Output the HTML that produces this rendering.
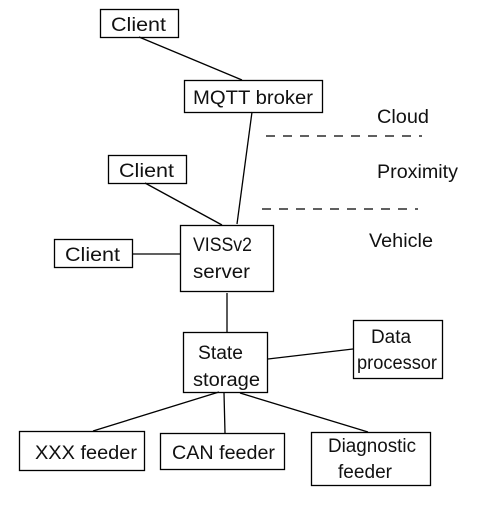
<!DOCTYPE html>
<html><head><meta charset="utf-8"><style>
html,body{margin:0;padding:0;background:#fff;width:481px;height:509px;overflow:hidden}
svg text{font-family:"Liberation Sans",sans-serif;font-size:19px;fill:#111}
</style></head><body>
<svg width="481" height="509" xmlns="http://www.w3.org/2000/svg">
<g fill="none" stroke="#000" stroke-width="1.3">
<rect x="100.5" y="9.5" width="78" height="28"/>
<rect x="184.5" y="80.5" width="138" height="32"/>
<rect x="108.5" y="155.5" width="78" height="28"/>
<rect x="180.5" y="225.5" width="93" height="66"/>
<rect x="54.5" y="239.5" width="78" height="28"/>
<rect x="183.5" y="332.5" width="84" height="60"/>
<rect x="353.5" y="320.5" width="89" height="58"/>
<rect x="19.5" y="431.5" width="125" height="39"/>
<rect x="160.5" y="433.5" width="124" height="36"/>
<rect x="311.5" y="432.5" width="119" height="53"/>
<line x1="139" y1="37" x2="242" y2="80"/>
<line x1="252" y1="112" x2="237" y2="224"/>
<line x1="145" y1="183" x2="222" y2="225"/>
<line x1="132" y1="254" x2="180" y2="254"/>
<line x1="227" y1="293" x2="227" y2="332"/>
<line x1="268" y1="359" x2="353" y2="349"/>
<line x1="219" y1="392" x2="93" y2="431"/>
<line x1="224" y1="393" x2="225" y2="433"/>
<line x1="240" y1="393" x2="368" y2="432"/>
<line x1="266" y1="136" x2="422" y2="136" stroke-dasharray="9,8"/>
<line x1="262" y1="209" x2="418" y2="209" stroke-dasharray="9,8"/>
</g>
<text x="111" y="31" textLength="55" lengthAdjust="spacingAndGlyphs">Client</text>
<text x="193" y="104" textLength="120" lengthAdjust="spacingAndGlyphs">MQTT broker</text>
<text x="119" y="177" textLength="55" lengthAdjust="spacingAndGlyphs">Client</text>
<text x="65" y="261" textLength="55" lengthAdjust="spacingAndGlyphs">Client</text>
<text x="193" y="251" textLength="59" lengthAdjust="spacingAndGlyphs">VISSv2</text>
<text x="193" y="278" textLength="57" lengthAdjust="spacingAndGlyphs">server</text>
<text x="198" y="359" textLength="45" lengthAdjust="spacingAndGlyphs">State</text>
<text x="193" y="386" textLength="67" lengthAdjust="spacingAndGlyphs">storage</text>
<text x="371" y="343" textLength="40" lengthAdjust="spacingAndGlyphs">Data</text>
<text x="357" y="369" textLength="80" lengthAdjust="spacingAndGlyphs">processor</text>
<text x="35" y="459" textLength="102" lengthAdjust="spacingAndGlyphs">XXX  feeder</text>
<text x="172" y="459" textLength="103" lengthAdjust="spacingAndGlyphs">CAN feeder</text>
<text x="328" y="452" textLength="88" lengthAdjust="spacingAndGlyphs">Diagnostic</text>
<text x="338" y="478" textLength="54" lengthAdjust="spacingAndGlyphs">feeder</text>
<text x="377" y="123" textLength="52" lengthAdjust="spacingAndGlyphs">Cloud</text>
<text x="377" y="178" textLength="81" lengthAdjust="spacingAndGlyphs">Proximity</text>
<text x="369" y="247" textLength="64" lengthAdjust="spacingAndGlyphs">Vehicle</text>
</svg>
</body></html>
